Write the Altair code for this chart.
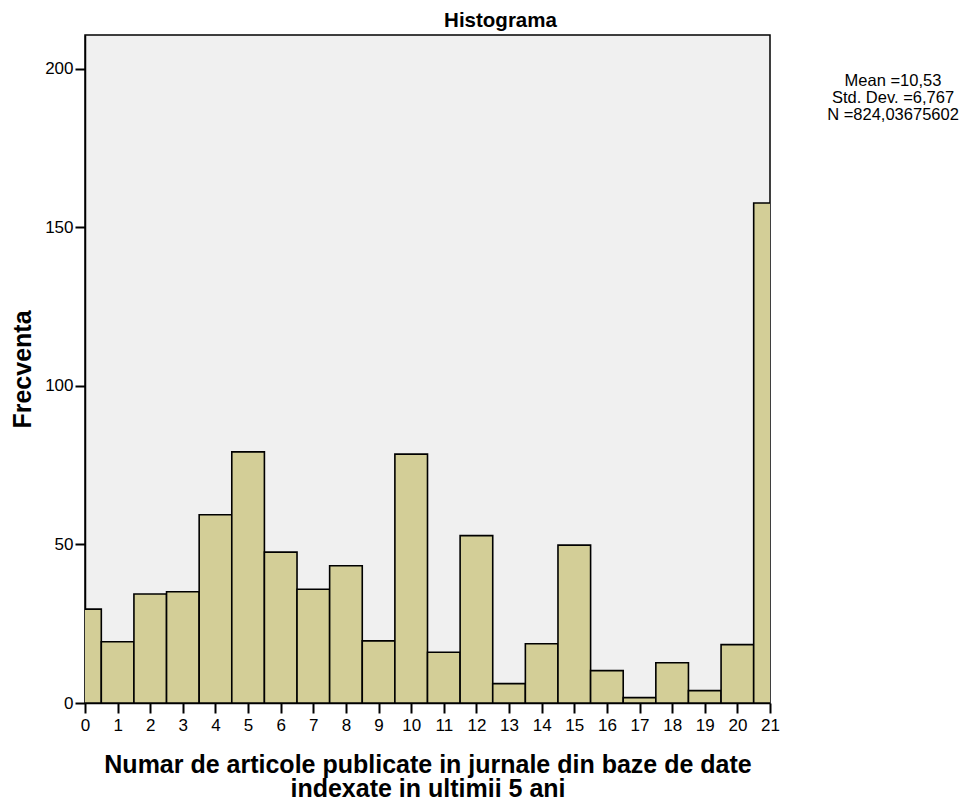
import altair as alt
import pandas as pd

# Data (bins centred on integers, width 1)
bins = list(range(22))
freq = [29.6, 19.3, 34.4, 35.1, 59.4, 79.2, 47.6, 35.9, 43.3, 19.6, 78.5,
        16.0, 52.8, 6.1, 18.7, 49.8, 10.2, 1.7, 12.7, 3.9, 18.4, 157.7]
x_ticks = list(range(22))
y_ticks = [0, 50, 100, 150, 200]
stats_lines = ["Mean =10,53", "Std. Dev. =6,767", "N =824,03675602"]

FONT = "Liberation Sans"

df = pd.DataFrame({"bin": bins, "freq": freq})
stats_df = pd.DataFrame({"stats": ["\n".join(stats_lines)]})

x_scale = alt.Scale(domain=[0, 21], nice=False, zero=False)
y_scale = alt.Scale(domain=[0, 210.7], nice=False)

bars = alt.Chart(df).transform_calculate(
    x0="datum.bin - 0.5", x1="datum.bin + 0.5"
).mark_rect(
    fill="#D3CE97", stroke="#000000", strokeWidth=1.6, clip=True
).encode(
    x=alt.X("x0:Q", scale=x_scale,
            axis=alt.Axis(values=x_ticks, format="d",
                          title=["Numar de articole publicate in jurnale din baze de date",
                                 "indexate in ultimii 5 ani"],
                          titleFontSize=25, titleFontWeight="bold", titleLineHeight=24.5,
                          titlePadding=19, labelFontSize=17, labelPadding=4,
                          tickSize=10, tickWidth=2, tickColor="#000000",
                          domainColor="#000000", domainWidth=1.5, grid=False,
                          labelColor="#000000", titleColor="#000000", labelFlush=False)),
    x2="x1:Q",
    y=alt.Y("freq:Q", scale=y_scale,
            axis=alt.Axis(values=y_ticks, title="Frecventa",
                          titleFontSize=25, titleFontWeight="bold", titlePadding=9,
                          labelFontSize=17, labelPadding=2,
                          tickSize=10, tickWidth=2, tickColor="#000000",
                          domainColor="#000000", domainWidth=1.5, grid=False,
                          labelColor="#000000", titleColor="#000000")),
    y2=alt.datum(0),
)

stats = alt.Chart(stats_df).mark_text(
    align="center", baseline="alphabetic", fontSize=16.5, lineHeight=17,
    lineBreak="\n", font=FONT, color="#000000"
).encode(
    text="stats:N",
    x=alt.value(808),
    y=alt.value(51),
)

chart = alt.layer(bars, stats).properties(
    width=685,
    height=668,
    title=alt.TitleParams("Histograma", fontSize=20.5, fontWeight="bold",
                          font=FONT, color="#000000", anchor="middle",
                          offset=4, dx=73),
    autosize=alt.AutoSizeParams(type="none"),
    padding={"left": 77, "top": 27, "right": 192, "bottom": 100},
    background="#FFFFFF",
).configure_view(
    fill="#F0F0F0", stroke="#000000", strokeWidth=1.5
).configure_axis(
    labelFont=FONT, titleFont=FONT
)

chart.save("out.html", embed_options={"renderer": "svg", "actions": False})
